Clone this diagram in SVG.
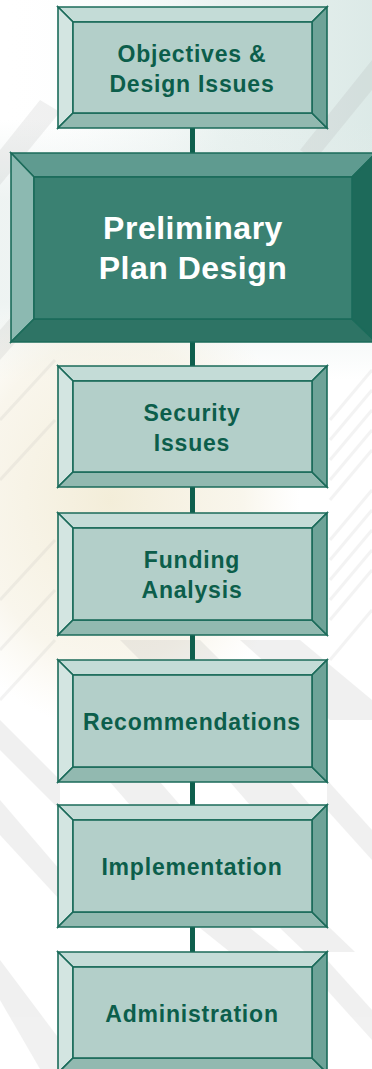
<svg xmlns="http://www.w3.org/2000/svg" width="372" height="1069" viewBox="0 0 372 1069">
  <defs>
    <style>
      .edge { stroke: #1b6b5a; stroke-width: 1.6; stroke-linejoin: miter; }
      .lt-top { fill: #c4dcd7; }
      .lt-left { fill: #d3e5e1; }
      .lt-face { fill: #b3cfc9; }
      .lt-bottom { fill: #92b9b0; }
      .lt-right { fill: #6ea398; }
      .dk-top { fill: #5f9b90; }
      .dk-left { fill: #8cb9b1; }
      .dk-face { fill: #3a8172; }
      .dk-bottom { fill: #2e7465; }
      .dk-right { fill: #1d6a5a; }
      .label { font-family: "Liberation Sans", Arial, sans-serif; font-weight: bold; font-size: 23px; fill: #0c5e4b; text-anchor: middle; letter-spacing: 0.8px; }
      .label-main { font-family: "Liberation Sans", Arial, sans-serif; font-weight: bold; font-size: 32px; fill: #ffffff; text-anchor: middle; letter-spacing: 0.5px; }
      .link { stroke: #0f5f4d; stroke-width: 5; }
      .band { fill: #9a9a9a; }
      .hatch { stroke: #a0a0a0; stroke-width: 3; }
    </style>
    <linearGradient id="tint-top" x1="0" y1="0" x2="1" y2="0">
      <stop offset="0" stop-color="#ffffff" stop-opacity="0"/>
      <stop offset="0.6" stop-color="#dbe9e6" stop-opacity="0.6"/>
      <stop offset="1" stop-color="#d6e6e3" stop-opacity="0.85"/>
    </linearGradient>
    <linearGradient id="tint-mid" x1="0" y1="0" x2="0" y2="1">
      <stop offset="0" stop-color="#e3ecea" stop-opacity="0"/>
      <stop offset="0.3" stop-color="#e3ecea" stop-opacity="0.6"/>
      <stop offset="0.7" stop-color="#e3ecea" stop-opacity="0.6"/>
      <stop offset="1" stop-color="#e3ecea" stop-opacity="0"/>
    </linearGradient>
    <radialGradient id="tint-warm" cx="0.5" cy="0.5" r="0.5">
      <stop offset="0" stop-color="#f1ead2" stop-opacity="0.85"/>
      <stop offset="0.7" stop-color="#f3edda" stop-opacity="0.5"/>
      <stop offset="1" stop-color="#f6f1e2" stop-opacity="0"/>
    </radialGradient>
  </defs>

  <!-- faint architectural backdrop -->
  <g id="backdrop">
    <rect x="0" y="0" width="372" height="1069" fill="#ffffff"/>
    <rect x="0" y="0" width="372" height="160" fill="url(#tint-top)"/>
    <rect x="0" y="120" width="372" height="260" fill="url(#tint-mid)"/>
    <ellipse cx="110" cy="500" rx="190" ry="230" fill="url(#tint-warm)"/>
    <g opacity="0.14">
      <polygon class="band" points="0,330 60,260 75,275 0,360"/>
      <polygon class="band" points="0,150 40,100 60,112 0,185"/>
      <polygon class="band" points="300,150 372,60 372,90 315,160"/>
      <polygon class="band" points="0,720 60,780 60,810 0,750"/>
      <polygon class="band" points="0,800 60,870 60,900 0,835"/>
      <polygon class="band" points="0,960 60,1040 60,1069 40,1069 0,1000"/>
      <polygon class="band" points="120,640 200,640 260,700 180,700"/>
      <polygon class="band" points="240,640 300,640 372,700 372,720 330,720"/>
      <polygon class="band" points="200,928 250,928 280,952 230,952"/>
      <polygon class="band" points="280,928 330,928 355,952 305,952"/>
      <polygon class="band" points="327,960 372,1010 372,1040 327,990"/>
      <polygon class="band" points="110,782 160,782 180,805 130,805"/>
      <polygon class="band" points="230,782 290,782 310,805 250,805"/>
      <polygon class="band" points="327,780 372,830 372,860 327,810"/>
    </g>
    <g opacity="0.12">
      <line class="hatch" x1="330" y1="420" x2="372" y2="370"/>
      <line class="hatch" x1="330" y1="440" x2="372" y2="390"/>
      <line class="hatch" x1="330" y1="460" x2="372" y2="410"/>
      <line class="hatch" x1="330" y1="480" x2="372" y2="430"/>
      <line class="hatch" x1="330" y1="500" x2="372" y2="450"/>
      <line class="hatch" x1="330" y1="540" x2="372" y2="490"/>
      <line class="hatch" x1="330" y1="560" x2="372" y2="510"/>
      <line class="hatch" x1="330" y1="580" x2="372" y2="530"/>
      <line class="hatch" x1="330" y1="600" x2="372" y2="550"/>
      <line class="hatch" x1="330" y1="620" x2="372" y2="570"/>
      <line class="hatch" x1="330" y1="660" x2="372" y2="610"/>
      <line class="hatch" x1="0" y1="420" x2="55" y2="360"/>
      <line class="hatch" x1="0" y1="480" x2="55" y2="420"/>
      <line class="hatch" x1="0" y1="600" x2="55" y2="540"/>
      <line class="hatch" x1="0" y1="650" x2="55" y2="590"/>
      <line class="hatch" x1="0" y1="700" x2="55" y2="640"/>
    </g>
  </g>

  <!-- connectors between stages -->
  <g id="connectors">
    <line class="link" x1="192.5" y1="128" x2="192.5" y2="153"/>
    <line class="link" x1="192.5" y1="342" x2="192.5" y2="366"/>
    <line class="link" x1="192.5" y1="487" x2="192.5" y2="513"/>
    <line class="link" x1="192.5" y1="635" x2="192.5" y2="660"/>
    <line class="link" x1="192.5" y1="782" x2="192.5" y2="805"/>
    <line class="link" x1="192.5" y1="927" x2="192.5" y2="952"/>
  </g>

  <!-- stage 1 -->
  <g id="objectives">
    <polygon class="lt-top edge" points="58,7 327,7 312,22 73,22"/>
    <polygon class="lt-left edge" points="58,7 73,22 73,113 58,128"/>
    <polygon class="lt-bottom edge" points="58,128 73,113 312,113 327,128"/>
    <polygon class="lt-right edge" points="327,7 327,128 312,113 312,22"/>
    <rect class="lt-face edge" x="73" y="22" width="239" height="91"/>
    <text class="label" x="192" y="62">Objectives &amp;</text>
    <text class="label" x="192" y="92">Design Issues</text>
  </g>

  <!-- stage 2 (highlighted) -->
  <g id="preliminary">
    <polygon class="dk-top edge" points="11,153 376,153 352,177 34,177"/>
    <polygon class="dk-left edge" points="11,153 34,177 34,319 11,342"/>
    <polygon class="dk-bottom edge" points="11,342 34,319 352,319 376,342"/>
    <polygon class="dk-right edge" points="376,153 376,342 352,319 352,177"/>
    <rect class="dk-face edge" x="34" y="177" width="318" height="142"/>
    <text class="label-main" x="193" y="239">Preliminary</text>
    <text class="label-main" x="193" y="279">Plan Design</text>
  </g>

  <!-- stage 3 -->
  <g id="security">
    <polygon class="lt-top edge" points="58,366 327,366 312,381 73,381"/>
    <polygon class="lt-left edge" points="58,366 73,381 73,472 58,487"/>
    <polygon class="lt-bottom edge" points="58,487 73,472 312,472 327,487"/>
    <polygon class="lt-right edge" points="327,366 327,487 312,472 312,381"/>
    <rect class="lt-face edge" x="73" y="381" width="239" height="91"/>
    <text class="label" x="192" y="421">Security</text>
    <text class="label" x="192" y="451">Issues</text>
  </g>

  <!-- stage 4 -->
  <g id="funding">
    <polygon class="lt-top edge" points="58,513 327,513 312,528 73,528"/>
    <polygon class="lt-left edge" points="58,513 73,528 73,620 58,635"/>
    <polygon class="lt-bottom edge" points="58,635 73,620 312,620 327,635"/>
    <polygon class="lt-right edge" points="327,513 327,635 312,620 312,528"/>
    <rect class="lt-face edge" x="73" y="528" width="239" height="92"/>
    <text class="label" x="192" y="568">Funding</text>
    <text class="label" x="192" y="598">Analysis</text>
  </g>

  <!-- stage 5 -->
  <g id="recommendations">
    <polygon class="lt-top edge" points="58,660 327,660 312,675 73,675"/>
    <polygon class="lt-left edge" points="58,660 73,675 73,767 58,782"/>
    <polygon class="lt-bottom edge" points="58,782 73,767 312,767 327,782"/>
    <polygon class="lt-right edge" points="327,660 327,782 312,767 312,675"/>
    <rect class="lt-face edge" x="73" y="675" width="239" height="92"/>
    <text class="label" x="192" y="730">Recommendations</text>
  </g>

  <!-- stage 6 -->
  <g id="implementation">
    <polygon class="lt-top edge" points="58,805 327,805 312,820 73,820"/>
    <polygon class="lt-left edge" points="58,805 73,820 73,912 58,927"/>
    <polygon class="lt-bottom edge" points="58,927 73,912 312,912 327,927"/>
    <polygon class="lt-right edge" points="327,805 327,927 312,912 312,820"/>
    <rect class="lt-face edge" x="73" y="820" width="239" height="92"/>
    <text class="label" x="192" y="875">Implementation</text>
  </g>

  <!-- stage 7 -->
  <g id="administration">
    <polygon class="lt-top edge" points="58,952 327,952 312,967 73,967"/>
    <polygon class="lt-left edge" points="58,952 73,967 73,1058 58,1073"/>
    <polygon class="lt-bottom edge" points="58,1073 73,1058 312,1058 327,1073"/>
    <polygon class="lt-right edge" points="327,952 327,1073 312,1058 312,967"/>
    <rect class="lt-face edge" x="73" y="967" width="239" height="91"/>
    <text class="label" x="192" y="1022">Administration</text>
  </g>
</svg>
